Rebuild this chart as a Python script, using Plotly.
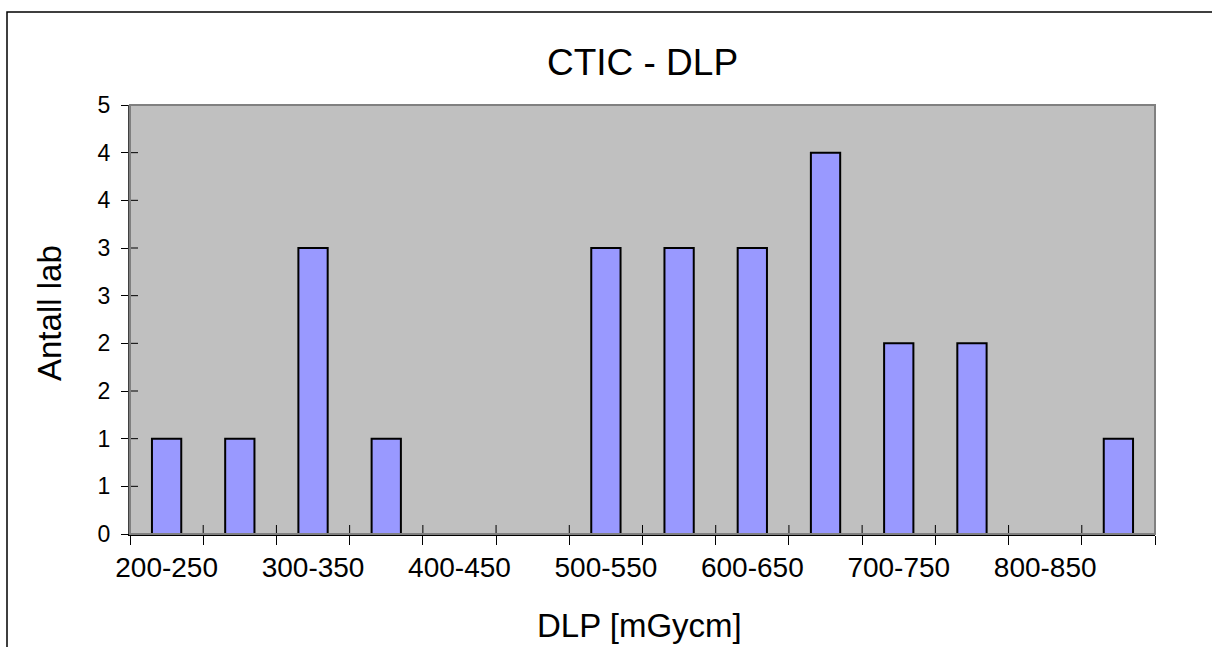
import plotly.graph_objects as go

# DLP intervals (mGycm) and number of labs in each
categories = ["200-250", "250-300", "300-350", "350-400", "400-450", "450-500",
              "500-550", "550-600", "600-650", "650-700", "700-750", "750-800",
              "800-850", "850-900"]
counts = [1, 1, 3, 1, 0, 0, 3, 3, 3, 4, 2, 2, 0, 1]

# y ticks every half unit, labels rounded to whole numbers
y_tickvals = [0, 0.5, 1.0, 1.5, 2.0, 2.5, 3.0, 3.5, 4.0, 4.5]
y_ticktext = ["0", "1", "1", "2", "2", "3", "3", "4", "4", "5"]

# only every second interval gets a label on the x axis
x_ticktext = [c if i % 2 == 0 else "" for i, c in enumerate(categories)]

W, H = 1212, 647
L, R, T, B = 130, 57, 105, 113
PW, PH = W - L - R, H - T - B
FONT = "Arial, Liberation Sans, sans-serif"

fig = go.Figure()
fig.add_trace(go.Bar(
    x=categories, y=counts, width=0.4,
    marker=dict(color="#9999FF", line=dict(color="#000000", width=2)),
    hoverinfo="x+y",
))

shapes = []
# inner halves of the x ticks (category boundaries)
for i in range(len(categories) - 1):
    shapes.append(dict(type="line", xref="x", yref="y", ysizemode="pixel", yanchor=0,
                       x0=i + 0.5, x1=i + 0.5, y0=0, y1=9,
                       line=dict(color="#000000", width=1), layer="above"))
# inner halves of the y ticks
for v in y_tickvals[1:]:
    shapes.append(dict(type="line", xref="x", yref="y", xsizemode="pixel", xanchor=-0.5,
                       x0=0, x1=8, y0=v, y1=v,
                       line=dict(color="#000000", width=1), layer="above"))
# plot-area frame
shapes.append(dict(type="rect", xref="paper", yref="paper", x0=0, x1=1, y0=0, y1=1,
                   line=dict(color="#808080", width=2), layer="above"))
# chart-area border
shapes.append(dict(type="rect", xref="paper", yref="paper",
                   x0=(7 - L) / PW, x1=(W + 5 - L) / PW,
                   y0=-(H + 5 - T - PH) / PH, y1=(H - 12 - B) / PH,
                   line=dict(color="#000000", width=1.5), layer="below"))

fig.update_layout(
    width=W, height=H,
    margin=dict(l=L, r=R, t=T, b=B, pad=0),
    paper_bgcolor="#FFFFFF", plot_bgcolor="#C0C0C0",
    showlegend=False,
    font=dict(family=FONT, color="#000000"),
    title=dict(text="CTIC - DLP", x=0.5, xanchor="center", xref="paper",
               y=1 - 62 / H, yanchor="middle", yref="container",
               font=dict(size=37, family=FONT, color="#000000")),
    shapes=shapes,
    annotations=[
        dict(text="DLP [mGycm]", xref="paper", yref="paper",
             x=(639 - L) / PW, y=-(625 - T - PH) / PH,
             xanchor="center", yanchor="middle", showarrow=False,
             font=dict(size=33, family=FONT, color="#000000")),
        dict(text="Antall lab", xref="paper", yref="paper",
             x=(49 - L) / PW, y=(H - B - 313) / PH,
             xanchor="center", yanchor="middle", textangle=-90, showarrow=False,
             font=dict(size=33, family=FONT, color="#000000")),
    ],
    bargap=0.6,
)

fig.update_xaxes(
    type="category", range=[-0.5, len(categories) - 0.5],
    tickmode="array", tickvals=categories, ticktext=x_ticktext,
    tickson="boundaries", ticks="outside", ticklen=9, tickwidth=1, tickcolor="#000000",
    tickangle=0,
    tickfont=dict(size=28, family=FONT, color="#000000"),
    ticklabelstandoff=8,
    showline=True, linecolor="#000000", linewidth=1.5,
    showgrid=False, zeroline=False, fixedrange=True,
)
fig.update_yaxes(
    range=[0, 4.5], tickmode="array", tickvals=y_tickvals, ticktext=y_ticktext,
    ticks="outside", ticklen=7, tickwidth=1, tickcolor="#000000",
    tickfont=dict(size=23, family=FONT, color="#000000"),
    ticklabelstandoff=6,
    showline=True, linecolor="#404040", linewidth=2,
    showgrid=False, zeroline=False, fixedrange=True,
)

fig.write_html("out.html")
